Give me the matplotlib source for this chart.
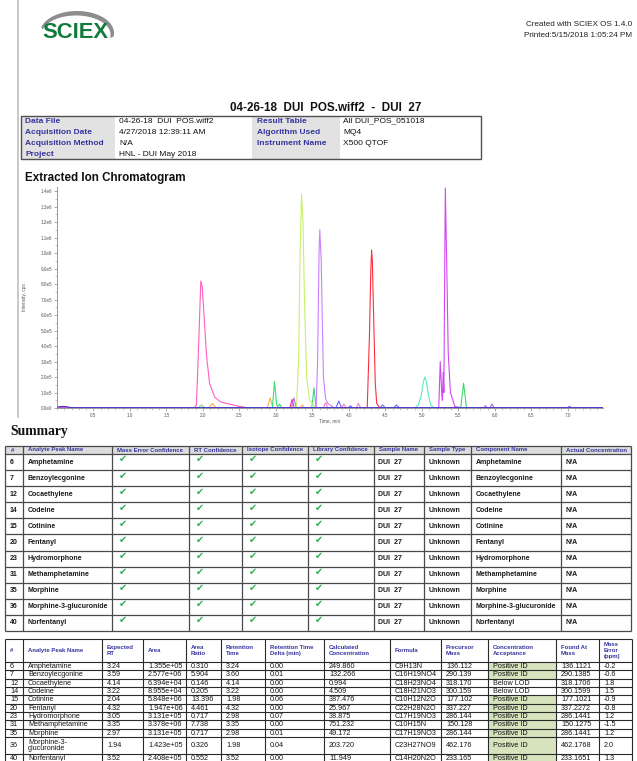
import matplotlib
matplotlib.use("Agg")
import matplotlib.pyplot as plt
from matplotlib.patches import Rectangle, Polygon
from matplotlib.ticker import FixedLocator, FuncFormatter, MultipleLocator
import numpy as np

plt.rcParams['font.family'] = ['Liberation Sans', 'DejaVu Sans']

# ---------------- report header ----------------
report_title = "04-26-18  DUI  POS.wiff2  -  DUI  27"
created_with = "Created with SCIEX OS 1.4.0"
printed_at = "Printed:5/15/2018 1:05:24 PM"
info_labels_left = ["Data File", "Acquisition Date", "Acquisition Method", "Project"]
info_values_left = ["04-26-18  DUI  POS.wiff2", "4/27/2018 12:39:11 AM", "N/A", "HNL - DUI May 2018"]
info_labels_right = ["Result Table", "Algorithm Used", "Instrument Name"]
info_values_right = ["All DUI_POS_051018", "MQ4", "X500 QTOF"]

# ---------------- chromatogram traces (min, cps) ----------------
cotinine_t = [0, 1.88, 1.91, 1.94, 1.97, 1.99, 2.01, 2.05, 2.09, 2.16, 2.24, 2.32, 2.50, 2.65, 7.48]
cotinine_i = [0, 0, 20000, 400000, 820000, 780000, 630000, 330000, 160000, 70000, 40000, 30000, 10000, 0, 0]
m3g_t = [0, 1.93, 1.98, 2.03, 7.48]
m3g_i = [0, 0, 20000, 0, 0]
orange_t = [0, 2.08, 2.13, 2.18, 2.88, 2.92, 2.96, 3.33, 3.36, 3.39, 7.48]
orange_i = [0, 0, 30000, 0, 0, 65000, 0, 0, 20000, 0, 0]
morphine_t = [0, 2.95, 2.98, 3.01, 3.03, 3.05, 3.08, 7.48]
morphine_i = [0, 0, 170000, 20000, 10000, 25000, 0, 0]
codeine_t = [0, 3.19, 3.22, 3.25, 7.48]
codeine_i = [0, 0, 55000, 0, 0]
amphet_t = [0, 3.21, 3.245, 3.28, 7.48]
amphet_i = [0, 0, 65000, 0, 0]
meth_t = [0, 3.28, 3.31, 3.33, 3.35, 3.37, 3.39, 3.42, 3.46, 3.55, 7.48]
meth_i = [0, 0, 300000, 1000000, 1380000, 1200000, 700000, 200000, 50000, 0, 0]
norfent_t = [0, 3.49, 3.52, 3.55, 7.48]
norfent_i = [0, 0, 130000, 0, 0]
benzo_t = [0, 3.55, 3.57, 3.59, 3.60, 3.62, 3.63, 3.65, 3.68, 3.71, 3.80, 7.48]
benzo_i = [0, 0, 300000, 1000000, 1150000, 950000, 680000, 200000, 60000, 30000, 0, 0]
pink_small_t = [0, 3.65, 3.68, 3.71, 3.90, 3.93, 3.96, 4.10, 4.13, 4.16, 7.48]
pink_small_i = [0, 0, 35000, 0, 0, 25000, 0, 0, 30000, 0, 0]
blue_small_t = [0, 3.82, 3.86, 3.90, 3.99, 4.02, 4.05, 4.42, 4.46, 4.50, 4.61, 4.65, 4.69, 6.98, 7.02, 7.06, 7.48]
blue_small_i = [0, 0, 45000, 0, 0, 15000, 0, 0, 20000, 0, 0, 20000, 0, 0, 10000, 0, 0]
fentanyl_t = [0, 4.25, 4.28, 4.30, 4.31, 4.32, 4.34, 4.36, 4.38, 4.42, 7.48]
fentanyl_i = [0, 0, 460000, 900000, 1020000, 950000, 550000, 160000, 30000, 0, 0]
cyan_t = [0, 4.90, 4.95, 4.99, 5.02, 5.04, 5.06, 5.09, 5.12, 5.16, 7.48]
cyan_i = [0, 0, 20000, 80000, 170000, 200000, 170000, 80000, 20000, 0, 0]
cocaeth_t = [0, 5.23, 5.25, 5.27, 5.28, 5.29, 5.30, 5.31, 5.32, 5.34, 5.36, 5.39, 5.45, 5.55, 7.48]
cocaeth_i = [0, 0, 300000, 100000, 50000, 230000, 100000, 800000, 1420000, 900000, 350000, 100000, 10000, 0, 0]
late_green_t = [0, 5.53, 5.57, 5.61, 7.48]
late_green_i = [0, 0, 160000, 0, 0]
late_purple_t = [0, 5.84, 5.87, 5.90, 5.93, 5.96, 5.99, 7.48]
late_purple_i = [0, 0, 15000, 0, 0, 25000, 0, 0]
baseline_t = [0, 0.02, 0.08, 0.14, 0.20, 7.48]
baseline_i = [3000, 8000, 10000, 8000, 2000, 2000]

# ---------------- summary table ----------------
summary_headers = ["#", "Analyte Peak Name", "Mass Error Confidence", "RT Confidence",
                   "Isotope Confidence", "Library Confidence", "Sample Name", "Sample Type",
                   "Component Name", "Actual Concentration"]
analyte_ids = ["6", "7", "12", "14", "15", "20", "23", "31", "35", "36", "40"]
analyte_names = ["Amphetamine", "Benzoylecgonine", "Cocaethylene", "Codeine", "Cotinine", "Fentanyl",
                 "Hydromorphone", "Methamphetamine", "Morphine", "Morphine-3-glucuronide", "Norfentanyl"]
mass_error_ok = [True, True, True, True, True, True, True, True, True, True, True]
rt_ok = [True, True, True, True, True, True, True, True, True, True, True]
isotope_ok = [True, True, True, True, True, True, True, True, True, True, True]
library_ok = [True, True, True, True, True, True, True, True, True, True, True]
sample_names = ["DUI  27", "DUI  27", "DUI  27", "DUI  27", "DUI  27", "DUI  27",
                "DUI  27", "DUI  27", "DUI  27", "DUI  27", "DUI  27"]
sample_types = ["Unknown", "Unknown", "Unknown", "Unknown", "Unknown", "Unknown",
                "Unknown", "Unknown", "Unknown", "Unknown", "Unknown"]
actual_conc = ["N/A", "N/A", "N/A", "N/A", "N/A", "N/A", "N/A", "N/A", "N/A", "N/A", "N/A"]

# ---------------- results table ----------------
result_headers = ["#", "Analyte Peak Name", "Expected\nRT", "Area", "Area\nRatio", "Retention\nTime",
                  "Retention Time\nDelta (min)", "Calculated\nConcentration", "Formula", "Precursor\nMass",
                  "Concentration\nAcceptance", "Found At\nMass", "Mass\nError\n(ppm)"]
result_names = ["Amphetamine", "Benzoylecgonine", "Cocaethylene", "Codeine", "Cotinine", "Fentanyl",
                "Hydromorphone", "Methamphetamine", "Morphine", "Morphine-3-\nglucuronide", "Norfentanyl"]
expected_rt = ["3.24", "3.59", "4.14", "3.22", "2.04", "4.32", "3.05", "3.35", "2.97", "1.94", "3.52"]
areas = ["1.355e+05", "2.577e+06", "6.394e+04", "8.955e+04", "5.848e+06", "1.947e+06",
         "3.131e+05", "3.378e+06", "3.131e+05", "1.423e+05", "2.408e+05"]
area_ratio = ["0.310", "5.904", "0.146", "0.205", "13.396", "4.461", "0.717", "7.738", "0.717", "0.326", "0.552"]
retention_time = ["3.24", "3.60", "4.14", "3.22", "1.98", "4.32", "2.98", "3.35", "2.98", "1.98", "3.52"]
rt_delta = ["0.00", "0.01", "0.00", "0.00", "0.06", "0.00", "0.07", "0.00", "0.01", "0.04", "0.00"]
calc_conc = ["249.860", "132.266", "0.994", "4.509", "387.476", "25.967", "38.875", "751.232",
             "49.172", "203.720", "11.949"]
formulas = ["C9H13N", "C16H19NO4", "C18H23NO4", "C18H21NO3", "C10H12N2O", "C22H28N2O",
            "C17H19NO3", "C10H15N", "C17H19NO3", "C23H27NO9", "C14H20N2O"]
precursor_mass = ["136.112", "290.139", "318.170", "300.159", "177.102", "337.227", "286.144",
                  "150.128", "286.144", "462.176", "233.165"]
acceptance = ["Positive ID", "Positive ID", "Below LOD", "Below LOD", "Positive ID", "Positive ID",
              "Positive ID", "Positive ID", "Positive ID", "Positive ID", "Positive ID"]
found_mass = ["136.1121", "290.1385", "318.1706", "300.1599", "177.1021", "337.2272", "286.1441",
              "150.1275", "286.1441", "462.1768", "233.1651"]
mass_error = ["-0.2", "-0.6", "1.8", "1.5", "-0.9", "-0.8", "1.2", "-1.5", "1.2", "2.0", "1.3"]

# ======================================================================
W, H = 637, 761
fig = plt.figure(figsize=(W / 100, H / 100), dpi=100)
page = fig.add_axes([0, 0, 1, 1])
page.set_xlim(0, W)
page.set_ylim(H, 0)
page.axis('off')

BLUE = '#35359f'
GRID = '#4a4a4a'

# page edge line
page.plot([17.5, 17.5], [0, 418], color='#c4c4c4', lw=1.3, solid_capstyle='butt')

# logo swoosh
th = np.radians(np.linspace(-10, 165, 80))
outer = np.column_stack([77 + 37 * np.cos(th), 33 - 22 * np.sin(th)])
inner = np.column_stack([76 + 34.5 * np.cos(th[::-1]), 34.5 - 19 * np.sin(th[::-1])])
page.add_patch(Polygon(np.vstack([outer, inner]), closed=True, fc='#8d8d8d', ec='none'))
page.text(42, 32.5, "SCIEX", fontweight='bold', fontsize=15.8, color='#127a3c',
          ha='left', va='center')

page.text(632, 25, created_with, fontsize=5.9, ha='right', va='center', color='#222222')
page.text(632, 35.5, printed_at, fontsize=5.9, ha='right', va='center', color='#222222')

page.text(230, 108, report_title, fontsize=8.4, fontweight='bold', ha='left', va='center', color='#111111')

# info table
ix0, ix1, ix2, ix3, ix4 = 21, 115, 252, 340, 481
iy0, iy1 = 116, 159
page.add_patch(Rectangle((ix0, iy0), ix1 - ix0, iy1 - iy0, fc='#e2e2e2', ec='none'))
page.add_patch(Rectangle((ix2, iy0), ix3 - ix2, iy1 - iy0, fc='#e2e2e2', ec='none'))
page.add_patch(Rectangle((ix0, iy0), ix4 - ix0, iy1 - iy0, fc='none', ec='#505050', lw=1.0))
row_y = [121.2, 132.2, 143.4, 154.6]
for k, (lab, val) in enumerate(zip(info_labels_left, info_values_left)):
    page.text(ix0 + 4, row_y[k], lab, fontsize=6, fontweight='bold', color=BLUE, va='center')
    page.text(ix1 + 4, row_y[k], val, fontsize=6, color='#111111', va='center')
for k, (lab, val) in enumerate(zip(info_labels_right, info_values_right)):
    page.text(ix2 + 5, row_y[k], lab, fontsize=6, fontweight='bold', color=BLUE, va='center')
    page.text(ix3 + 3, row_y[k], val, fontsize=6, color='#111111', va='center')

page.text(25, 177.5, "Extracted Ion Chromatogram", fontsize=8.4, fontweight='bold', va='center', color='#111111')

# ---------------- chromatogram ----------------
ax_l, ax_r, ax_b, ax_t = 57, 603, 408, 186.5
ax = fig.add_axes([ax_l / W, 1 - ax_b / H, (ax_r - ax_l) / W, (ax_b - ax_t) / H])
traces = [
    (orange_t, orange_i, '#ffb040'),
    (m3g_t, m3g_i, '#80dc80'),
    (pink_small_t, pink_small_i, '#ff78d0'),
    (blue_small_t, blue_small_i, '#6a6aff'),
    (late_purple_t, late_purple_i, '#b070ff'),
    (morphine_t, morphine_i, '#3ddc6e'),
    (norfent_t, norfent_i, '#44d47a'),
    (late_green_t, late_green_i, '#3ed86a'),
    (cyan_t, cyan_i, '#5ee8c0'),
    (codeine_t, codeine_i, '#ff3070'),
    (amphet_t, amphet_i, '#b866ff'),
    (cotinine_t, cotinine_i, '#ff5fc0'),
    (meth_t, meth_i, '#c8f06e'),
    (benzo_t, benzo_i, '#cc80ff'),
    (fentanyl_t, fentanyl_i, '#ff2d3f'),
    (cocaeth_t, cocaeth_i, '#d048f0'),
    (baseline_t, baseline_i, '#3a3acc'),
]
for t, i, c in traces:
    ax.plot(t, i, color=c, lw=0.8)
ax.set_xlim(0, 7.48)
ax.set_ylim(0, 1.43e6)
for s in ['top', 'right']:
    ax.spines[s].set_visible(False)
for s in ['left', 'bottom']:
    ax.spines[s].set_color('#8a8a8a')
    ax.spines[s].set_linewidth(0.6)
ax.yaxis.set_major_locator(FixedLocator(np.arange(0, 1.45e6, 1e5)))
ax.yaxis.set_minor_locator(MultipleLocator(5e4))


def sci_fmt(v, pos):
    if v <= 0:
        return "0.0e0"
    e = int(np.floor(np.log10(v) + 1e-9))
    return f"{v / 10 ** e:.1f}e{e}"


ax.yaxis.set_major_formatter(FuncFormatter(sci_fmt))
ax.xaxis.set_major_locator(FixedLocator(np.arange(0.5, 7.01, 0.5)))
ax.xaxis.set_minor_locator(MultipleLocator(0.1))
ax.xaxis.set_major_formatter(FuncFormatter(lambda v, p: f"{v:.1f}"))
ax.tick_params(which='major', length=2, width=0.5, colors='#8a8a8a', labelsize=3.3,
               labelcolor='#555555', pad=1.5)
ax.tick_params(which='minor', length=1.2, width=0.4, colors='#9a9a9a')
ax.set_ylabel("Intensity, cps", fontsize=3.4, color='#555555')
ax.yaxis.set_label_coords(-0.055, 0.5)
ax.set_xlabel("Time, min", fontsize=3.4, color='#555555')
ax.xaxis.set_label_coords(0.5, -0.045)

# ---------------- summary ----------------
page.text(10, 431, "Summary", family=['Liberation Serif'], fontweight='bold', fontsize=9.8,
          va='center', color='#111111')

sx = [5, 23, 112, 189, 242, 308, 374, 424, 471, 561, 631]
s_head = (446, 454)
s_row_h = (631 - 454) / len(analyte_ids)
sy = [s_head[0], s_head[1]] + [454 + s_row_h * (k + 1) for k in range(len(analyte_ids))]
page.add_patch(Rectangle((sx[0], s_head[0]), sx[-1] - sx[0], s_head[1] - s_head[0], fc='#dcdcdc', ec='none'))
for k, h in enumerate(summary_headers):
    page.text(sx[k] + (5 if k else 5.5), (s_head[0] + s_head[1]) / 2, h, fontsize=4.3,
              fontweight='bold', color=BLUE, va='center')
checks = [mass_error_ok, rt_ok, isotope_ok, library_ok]
text_cols = {0: analyte_ids, 1: analyte_names, 6: sample_names, 7: sample_types,
             8: analyte_names, 9: actual_conc}
for r in range(len(analyte_ids)):
    top = sy[r + 1]
    mid = top + s_row_h / 2
    for c, col in text_cols.items():
        page.text(sx[c] + (5 if c == 0 else 4.5), mid, col[r], fontsize=5, fontweight='bold',
                  color='#1a1a1a', va='center')
    for j, chk in enumerate(checks):
        if chk[r]:
            page.text(sx[2 + j] + 7, top + 0.3, "\u2714", family=['DejaVu Sans'], fontsize=7,
                      color='#34b453', va='top', ha='left')
for x in sx:
    page.plot([x, x], [sy[0], sy[-1]], color=GRID, lw=0.9, solid_capstyle='butt')
for y in sy:
    page.plot([sx[0], sx[-1]], [y, y], color=GRID, lw=0.9, solid_capstyle='butt')

# ---------------- results table ----------------
rx = [5, 23, 102, 143, 186, 221, 265, 324, 390, 441, 488, 556, 599, 632]
r_head = (639, 662)
unit = 8.33
row_heights = [2 * unit if "\n" in n else unit for n in result_names]
ry = [r_head[0], r_head[1]]
for hgt in row_heights:
    ry.append(ry[-1] + hgt)
res_cols = [analyte_ids, result_names, expected_rt, areas, area_ratio, retention_time, rt_delta,
            calc_conc, formulas, precursor_mass, acceptance, found_mass, mass_error]
for r in range(len(result_names)):
    if acceptance[r] == "Positive ID":
        page.add_patch(Rectangle((rx[10], ry[r + 1]), rx[11] - rx[10], ry[r + 2] - ry[r + 1],
                                 fc='#d6e3bc', ec='none'))
for k, h in enumerate(result_headers):
    page.text(rx[k] + 5, (r_head[0] + r_head[1]) / 2, h, fontsize=4.3, fontweight='bold',
              color=BLUE, va='center', linespacing=1.3)
for r in range(len(result_names)):
    mid = (ry[r + 1] + ry[r + 2]) / 2
    for c, col in enumerate(res_cols):
        page.text(rx[c] + 5, mid + 0.3, col[r], fontsize=5.2, color='#151515', va='center',
                  linespacing=0.95)
for x in rx:
    page.plot([x, x], [ry[0], ry[-1]], color='#2a2a2a', lw=0.8, solid_capstyle='butt')
for y in ry:
    page.plot([rx[0], rx[-1]], [y, y], color='#2a2a2a', lw=0.8, solid_capstyle='butt')

fig.savefig("out.png", dpi=100)
